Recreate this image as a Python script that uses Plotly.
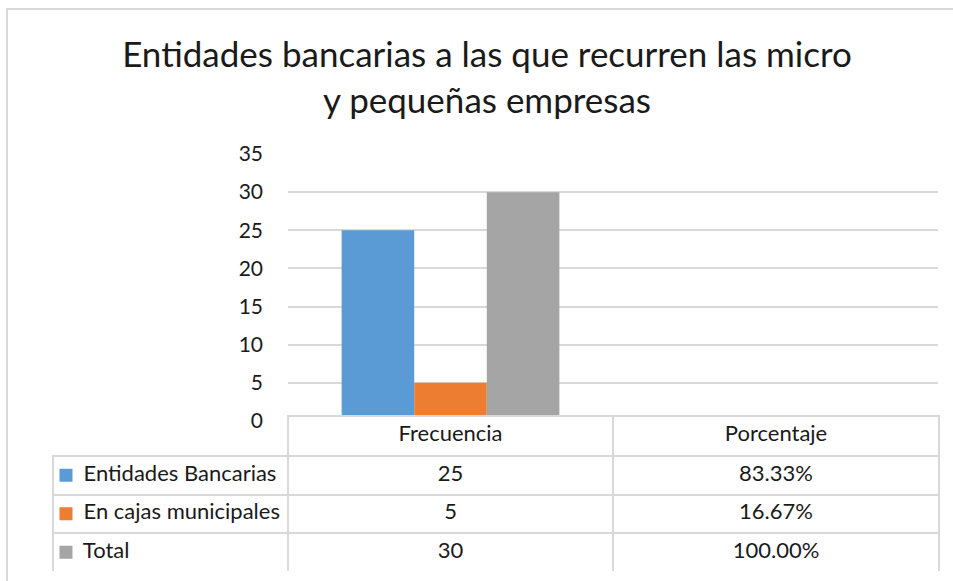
import plotly.graph_objects as go

categories = ["Frecuencia", "Porcentaje"]
series_names = ["Entidades Bancarias", "En cajas municipales", "Total"]
frecuencia = [25, 5, 30]
porcentaje_labels = ["83.33%", "16.67%", "100.00%"]
colors = ["#5B9BD5", "#ED7D31", "#A5A5A5"]
y_ticks = [0, 5, 10, 15, 20, 25, 30, 35]

W, H = 953, 581
FONT = "Lato"
TXT = "#1a1a1a"
GRID = "#D9D9D9"

def fx(px):
    return px / W

def fy(py):
    return 1 - py / H

fig = go.Figure()
for name, val, col in zip(series_names, frecuencia, colors):
    fig.add_trace(go.Bar(
        x=[categories[0]], y=[val], name=name,
        marker=dict(color=col, line=dict(width=0)),
        showlegend=False,
    ))

# legend keys (drawn under the transparent first table column)
fig.add_trace(go.Scatter(
    x=[13] * len(series_names), y=series_names,
    mode="markers", xaxis="x2", yaxis="y2",
    marker=dict(symbol="square", size=13, color=colors, line=dict(width=0)),
    showlegend=False, hoverinfo="skip",
))

# data table under the chart
TBL_TOP, HDR_H, ROW_H = 416, 40, 38.5
TBL_BOT = TBL_TOP + HDR_H + 3 * ROW_H
NB = "\u00a0"
header_vals = [""] + categories
cell_vals = [
    [NB * 4 + n.replace(" ", NB) for n in series_names],
    [str(v) for v in frecuencia],
    porcentaje_labels,
]
fig.add_trace(go.Table(
    domain=dict(x=[fx(53), fx(939)], y=[fy(TBL_BOT), fy(TBL_TOP)]),
    columnwidth=[235, 325, 326],
    header=dict(
        values=header_vals, height=HDR_H,
        fill_color=["rgba(0,0,0,0)", "white", "white"],
        line=dict(color=["rgba(0,0,0,0)", GRID, GRID], width=2),
        align="center",
        font=dict(family=FONT, size=22, color=TXT),
    ),
    cells=dict(
        values=cell_vals, height=ROW_H,
        fill_color=["rgba(0,0,0,0)", "white", "white"],
        line=dict(color=GRID, width=2),
        align=["left", "center", "center"],
        font=dict(family=FONT, size=22, color=TXT),
    ),
))

fig.update_layout(
    width=W, height=H,
    margin=dict(l=0, r=0, t=0, b=0, pad=0, autoexpand=False),
    paper_bgcolor="white", plot_bgcolor="rgba(0,0,0,0)",
    barmode="group", bargap=0.33, bargroupgap=0,
    title=dict(
        text="Entidades bancarias a las que recurren las micro<br>y pequeñas empresas",
        x=fx(487), xanchor="center", y=fy(67), yanchor="top",
        font=dict(family=FONT, size=35, color=TXT),
    ),
    xaxis=dict(
        domain=[fx(288), fx(938)],
        categoryorder="array", categoryarray=categories,
        range=[-0.5, 1.5],
        showticklabels=False, showgrid=False, zeroline=False, showline=False,
    ),
    yaxis=dict(
        domain=[fy(421), fy(154)],
        range=[0, 35], tickvals=y_ticks,
        showgrid=True, gridcolor=GRID, gridwidth=2,
        zeroline=False, showline=False,
        ticklabelstandoff=24,
        tickfont=dict(family=FONT, size=21, color=TXT),
    ),
    xaxis2=dict(
        domain=[fx(53), fx(288)], range=[0, 235], anchor="y2",
        visible=False, fixedrange=True,
    ),
    yaxis2=dict(
        domain=[fy(TBL_BOT), fy(TBL_TOP + HDR_H)], anchor="x2",
        type="category", categoryorder="array", categoryarray=series_names,
        range=[len(series_names) - 0.5, -0.5],
        visible=False, fixedrange=True,
    ),
    shapes=[
        dict(type="line", xref="paper", yref="paper",
             x0=fx(6), x1=1, y0=fy(9), y1=fy(9),
             line=dict(color=GRID, width=2), layer="below"),
        dict(type="line", xref="paper", yref="paper",
             x0=fx(7), x1=fx(7), y0=0, y1=fy(9),
             line=dict(color=GRID, width=2), layer="below"),
    ],
)

fig.write_html(
    "out.html",
    config={"displayModeBar": False},
    post_script="document.body.style.margin='0';document.body.style.overflow='hidden';",
)
